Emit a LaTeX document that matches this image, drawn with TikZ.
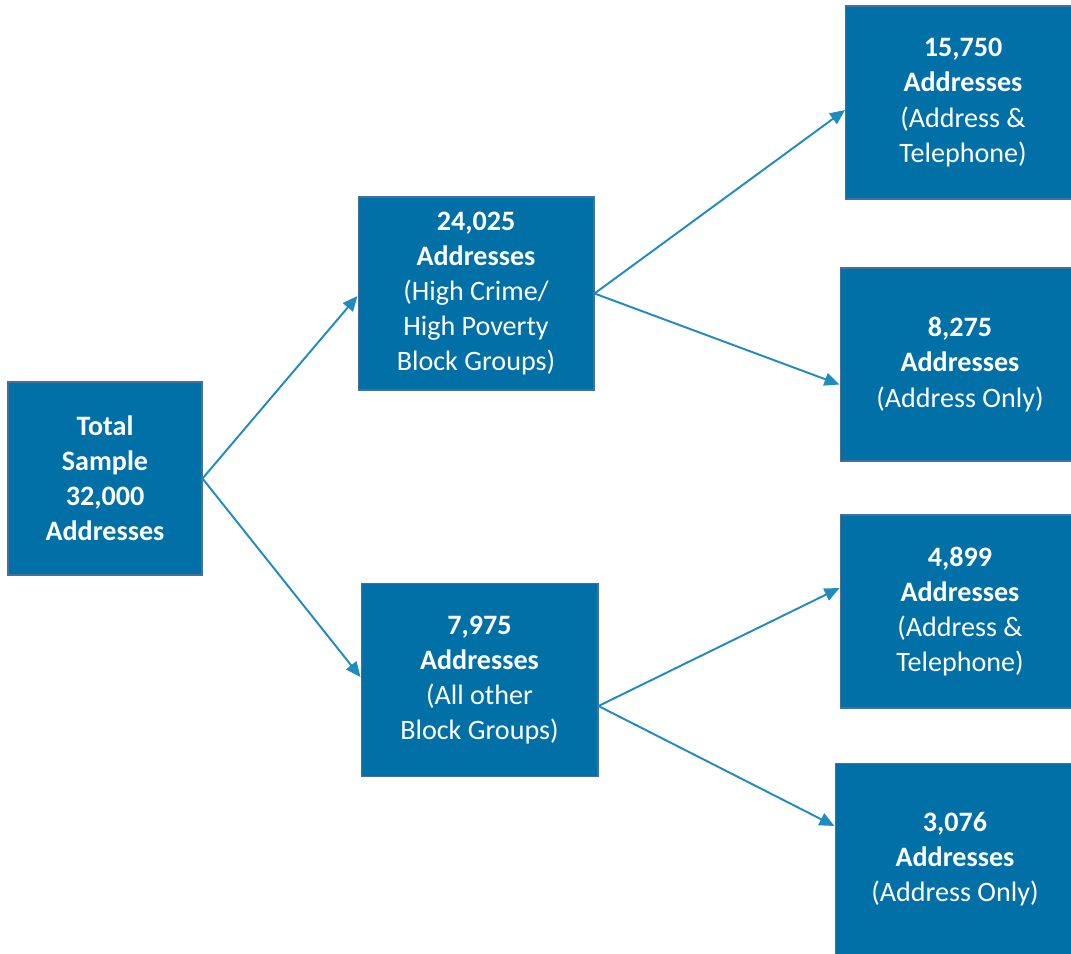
\documentclass[tikz,border=0pt]{standalone}
\usepackage{fontspec}
\usepackage{tikz}
\usepackage{xcolor}
\setmainfont{Carlito}
\usetikzlibrary{arrows.meta,positioning}
\definecolor{boxblue}{RGB}{0,112,167}
\definecolor{edgeblue}{RGB}{65,113,156}
\definecolor{lineblue}{RGB}{31,140,192}

\begin{document}
\begin{tikzpicture}[x=0.02cm,y=-0.02cm]
    % Define styles
    \tikzstyle{group} = [rectangle, draw=edgeblue, line width=0.6pt, fill=boxblue, text=white, align=center, minimum height=3.86cm, inner sep=0pt, font=\fontsize{16}{20}\selectfont]
    \tikzstyle{arrow} = [draw=lineblue, line width=1.1pt, -{Triangle[length=0.3cm,width=0.26cm]}]

    \useasboundingbox (0,0) rectangle (1071,953);

    % Whole sample
    \node[group, minimum width=3.88cm] (total) at (105,478.5) {\textbf{Total}\\\textbf{Sample}\\\textbf{32,000}\\\textbf{Addresses}};

    % Block group strata
    \node[group, minimum width=4.72cm] (crime) at (476,293.5) {\textbf{24,025}\\\textbf{Addresses}\\(High Crime/\\High Poverty\\Block Groups)};
    \node[group, minimum width=4.74cm] (other) at (479.5,680) {\textbf{7,975}\\\textbf{Addresses}\\(All other\\Block Groups)};

    % Frame splits
    \node[group, minimum width=4.7cm] (crimetel) at (963,102.5) {\textbf{15,750}\\\textbf{Addresses}\\(Address \&\\Telephone)};
    \node[group, minimum width=4.8cm] (crimeonly) at (960,364.5) {\textbf{8,275}\\\textbf{Addresses}\\(Address Only)};
    \node[group, minimum width=4.8cm] (othertel) at (960,611.5) {\textbf{4,899}\\\textbf{Addresses}\\(Address \&\\Telephone)};
    \node[group, minimum width=4.8cm] (otheronly) at (955,859.5) {\textbf{3,076}\\\textbf{Addresses}\\(Address Only)};

    % Arrows
    \draw[arrow] (total.east) -- ([yshift=-0.05cm]crime.west);
    \draw[arrow] (total.east) -- ([yshift=0.06cm]other.west);
    \draw[arrow] (crime.east) -- ([yshift=-0.15cm]crimetel.west);
    \draw[arrow] (crime.east) -- ([yshift=-0.4cm]crimeonly.west);
    \draw[arrow] ([yshift=-0.52cm]other.east) -- ([yshift=0.47cm]othertel.west);
    \draw[arrow] ([yshift=-0.52cm]other.east) -- ([yshift=0.67cm]otheronly.west);

\end{tikzpicture}
\end{document}
